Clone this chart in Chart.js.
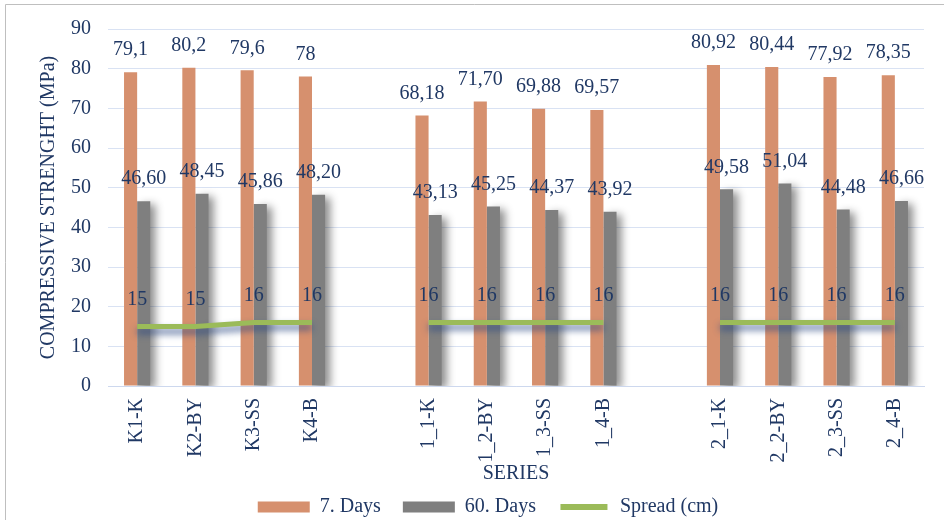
<!DOCTYPE html>
<html>
<head>
<meta charset="utf-8">
<script src="https://cdn.jsdelivr.net/npm/chart.js@4/dist/chart.umd.min.js"></script>
<style>
  body { margin: 0; background: #fff; }
  #wrap { position: relative; width: 944px; height: 520px; }
</style>
</head>
<body>
<div id="wrap"><canvas id="myChart" width="944" height="520"></canvas></div>
<script>
// categories (empty strings are the gaps between groups)
const categories = ['K1-K', 'K2-BY', 'K3-SS', 'K4-B', '', '1_1-K', '1_2-BY', '1_3-SS', '1_4-B', '', '2_1-K', '2_2-BY', '2_3-SS', '2_4-B']
const days7 = [79.1, 80.2, 79.6, 78, null, 68.18, 71.70, 69.88, 69.57, null, 80.92, 80.44, 77.92, 78.35]
const days60 = [46.60, 48.45, 45.86, 48.20, null, 43.13, 45.25, 44.37, 43.92, null, 49.58, 51.04, 44.48, 46.66]
const spread = [15, 15, 16, 16, null, 16, 16, 16, 16, null, 16, 16, 16, 16]
// value labels as printed on the chart
const days7Text = ['79,1', '80,2', '79,6', '78', '', '68,18', '71,70', '69,88', '69,57', '', '80,92', '80,44', '77,92', '78,35']
const days60Text = ['46,60', '48,45', '45,86', '48,20', '', '43,13', '45,25', '44,37', '43,92', '', '49,58', '51,04', '44,48', '46,66']
const spreadText = ['15', '15', '16', '16', '', '16', '16', '16', '16', '', '16', '16', '16', '16']
const yTicks = [0, 10, 20, 30, 40, 50, 60, 70, 80, 90]

const FONT = "'Liberation Serif', 'Times New Roman', serif"
const TXT = '#203864'

Chart.defaults.font.family = FONT
Chart.defaults.color = TXT

////// shadows under gray bars and line
const shadowPlugin = {
    id: 'shadows',
    beforeDatasetDraw(chart, args) {
        const ctx = chart.ctx
        ctx.save()
        if (args.meta.type === 'line') {
            ctx.shadowColor = 'rgba(40,70,130,0.75)'
            ctx.shadowOffsetX = 0
            ctx.shadowOffsetY = 5
            ctx.shadowBlur = 7
        } else if (args.index === 1) {
            ctx.shadowColor = 'rgba(0,0,0,0.45)'
            ctx.shadowOffsetX = 5
            ctx.shadowOffsetY = 3
            ctx.shadowBlur = 8
        }
    },
    afterDatasetDraw(chart) {
        chart.ctx.restore()
    }
}

////// value labels
const labelPlugin = {
    id: 'valueLabels',
    afterDatasetsDraw(chart) {
        const ctx = chart.ctx
        const texts = [days7Text, days60Text, spreadText]
        const lift = [22, 22, 27]
        ctx.save()
        ctx.font = '20px ' + FONT
        ctx.fillStyle = TXT
        ctx.textAlign = 'center'
        ctx.textBaseline = 'middle'
        chart.data.datasets.forEach((ds, i) => {
            const meta = chart.getDatasetMeta(i)
            meta.data.forEach((el, j) => {
                if (ds.data[j] == null) return
                let x = el.x
                if (ds.type === 'line') x = chart.scales.x.getPixelForValue(j)
                ctx.fillText(texts[i][j], x, el.y - lift[i])
            })
        })
        ctx.restore()
    }
}

////// frame lines (top + left visible in the original)
const framePlugin = {
    id: 'frame',
    beforeDraw(chart) {
        const ctx = chart.ctx
        ctx.save()
        ctx.strokeStyle = '#bfbfbf'
        ctx.lineWidth = 1
        ctx.beginPath()
        ctx.moveTo(5.5, 520)
        ctx.lineTo(5.5, 4.5)
        ctx.lineTo(944, 4.5)
        ctx.stroke()
        ctx.restore()
    },
    // legend sits a bit right of centre and higher in the original
    afterLayout(chart) {
        chart.legend.left += 26
        chart.legend.right += 26
        chart.legend.top -= 11
        chart.legend.bottom = 520
    }
}

const ctx = document.getElementById('myChart')
const myChart = new Chart(ctx, {
    data: {
        labels: categories,
        datasets: [{
            type: 'bar',
            label: '7. Days',
            data: days7,
            backgroundColor: '#d6906e',
            barPercentage: 1,
            categoryPercentage: 0.45,
            order: 1
        },
        {
            type: 'bar',
            label: '60. Days',
            data: days60,
            backgroundColor: '#7f7f7f',
            barPercentage: 1,
            categoryPercentage: 0.45,
            order: 2
        },
        {
            type: 'line',
            label: 'Spread (cm)',
            data: spread,
            borderColor: '#9bbb59',
            backgroundColor: '#9bbb59',
            borderWidth: 5,
            pointRadius: 0,
            tension: 0,
            spanGaps: false,
            order: 0
        }]
    },
    options: {
        responsive: false,
        animation: false,
        layout: { padding: { top: 28, left: 0, right: 20, bottom: 0 } },
        plugins: {
            tooltip: { enabled: false },
            legend: {
                position: 'bottom',
                maxHeight: 34,
                labels: {
                    boxWidth: 52,
                    boxHeight: 11,
                    padding: 22,
                    font: { size: 20 },
                    color: TXT,
                    sort: (a, b) => a.datasetIndex - b.datasetIndex,
                    generateLabels(chart) {
                        const items = Chart.defaults.plugins.legend.labels.generateLabels(chart)
                        items.forEach(it => {
                            if (it.datasetIndex === 2) {
                                it.strokeStyle = '#ffffff'
                                it.lineWidth = 5
                            } else {
                                it.lineWidth = 0
                            }
                        })
                        return items
                    }
                }
            }
        },
        scales: {
            x: {
                grid: { display: false, drawTicks: false },
                border: { color: '#cdd8ee', width: 1 },
                ticks: { minRotation: 90, maxRotation: 90, padding: 12, font: { size: 20 }, color: TXT, autoSkip: false },
                title: { display: true, text: 'SERIES', font: { size: 20 }, color: TXT, padding: { top: 0, bottom: 0 } },
                afterFit(scale) { scale.height = 100 }
            },
            y: {
                min: 0,
                max: 90,
                afterBuildTicks(scale) { scale.ticks = yTicks.map(v => ({ value: v })) },
                grid: { color: '#d9e2f3', drawTicks: false },
                border: { display: false },
                ticks: { padding: 17, font: { size: 20 }, color: TXT },
                title: { display: true, text: 'COMPRESSIVE STRENGHT (MPa)', font: { size: 20 }, color: TXT, padding: { top: 37, bottom: 0 } },
                afterFit(scale) { scale.width = 108 }
            }
        }
    },
    plugins: [framePlugin, shadowPlugin, labelPlugin]
});
</script>
</body>
</html>
